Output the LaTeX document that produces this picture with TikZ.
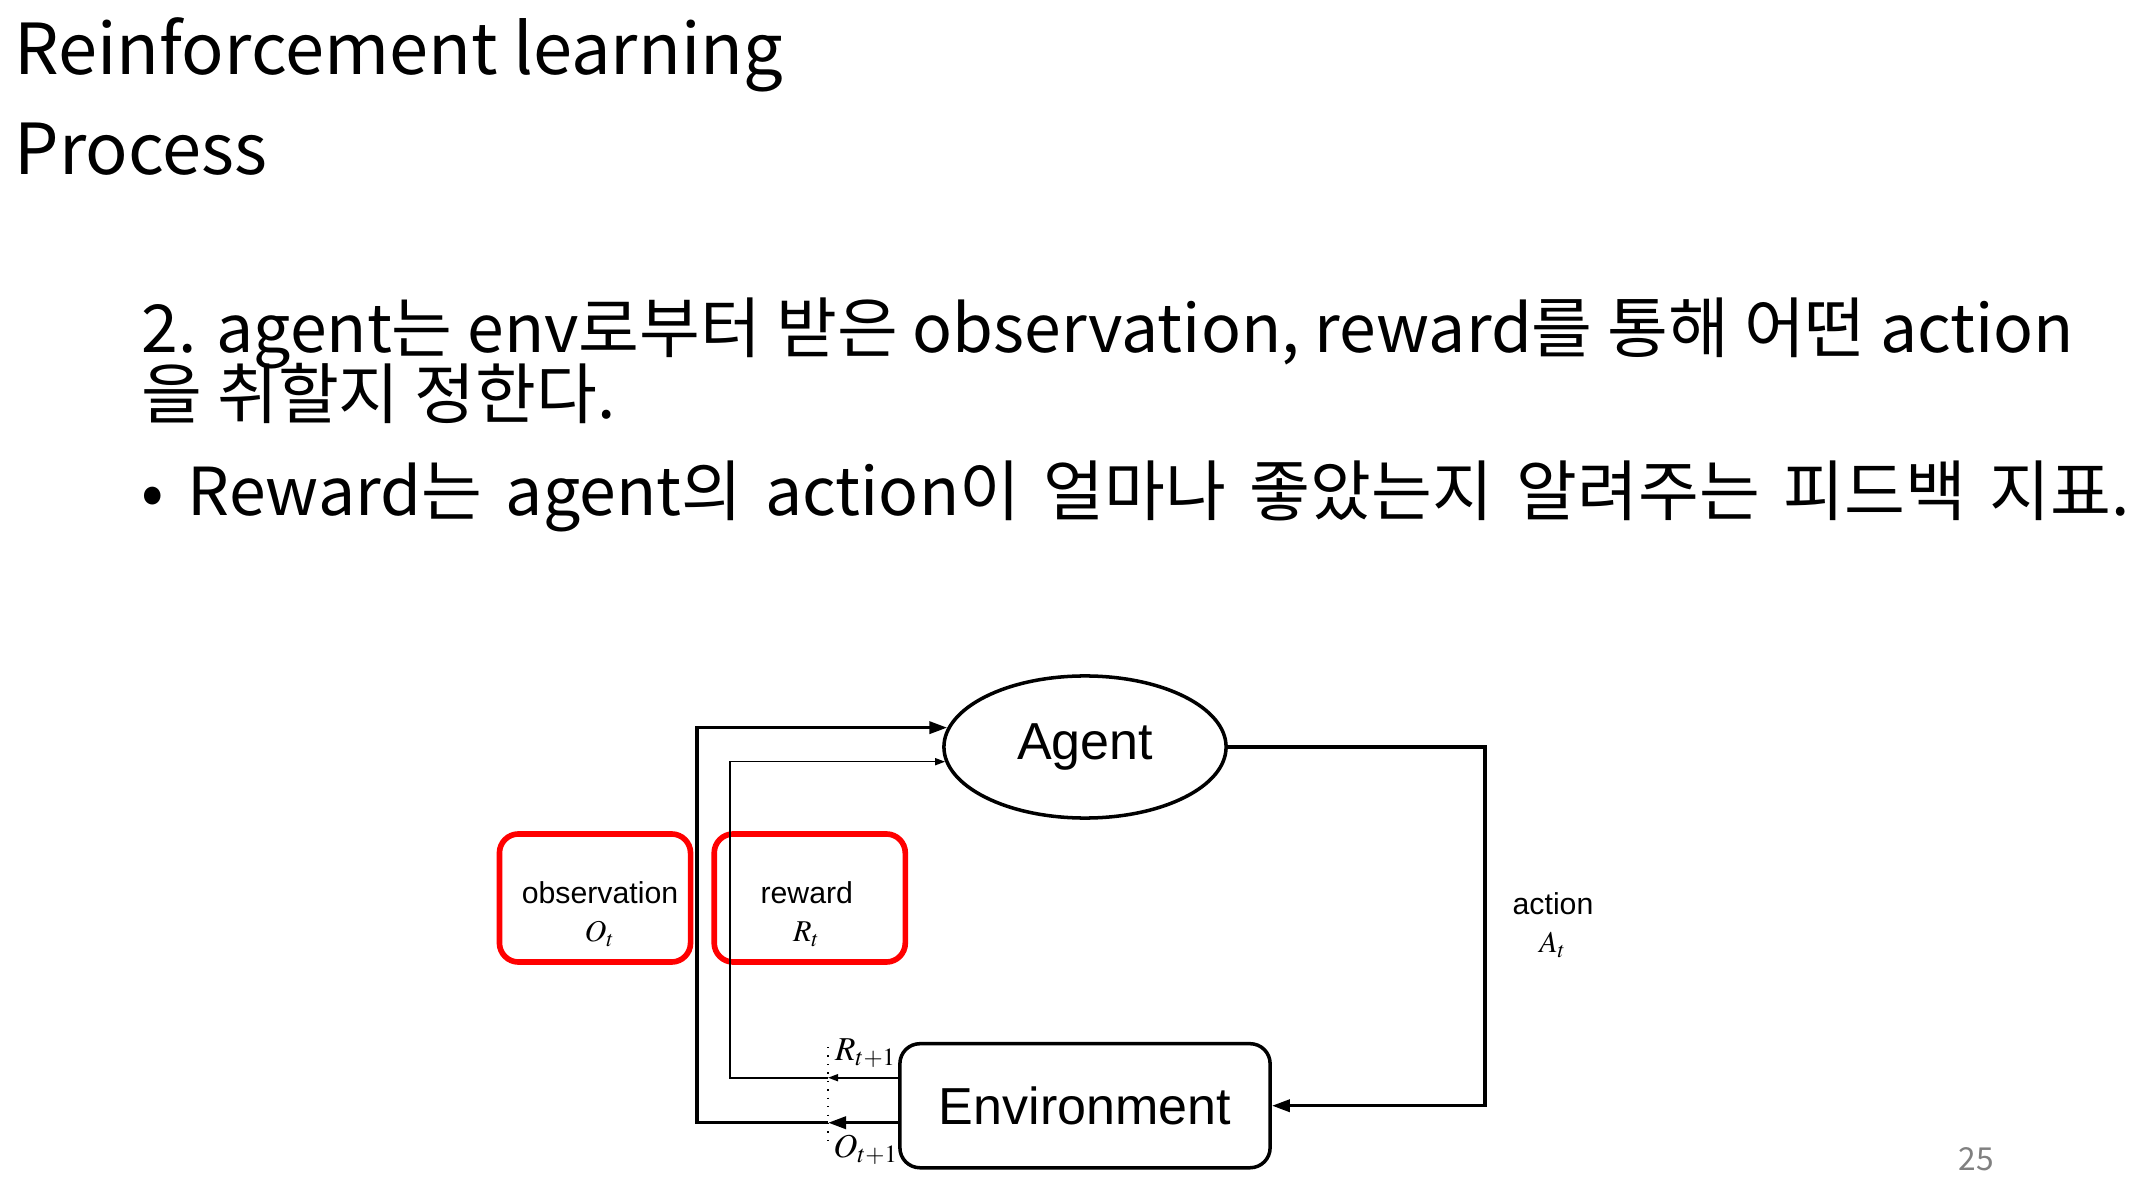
\documentclass[tikz,border=0pt]{standalone}
\usepackage{amsmath}
\usepackage{mathptmx}
\usepackage{fontspec}
\setmainfont{Noto Sans CJK KR}
\newfontfamily\diagfont{Liberation Sans}
\usepackage{tikz}
\usetikzlibrary{arrows.meta, positioning, shapes.geometric, calc}
\definecolor{boxred}{RGB}{255,0,0}
\definecolor{pagegray}{RGB}{128,128,128}
\tikzset{>={Triangle[length=0.18cm,width=0.12cm]}}
\tikzset{
  slidetext/.style={anchor=base west, inner sep=0pt},
  highlight/.style={draw=boxred, line width=1.6pt, rounded corners=0.19cm, minimum width=1.91cm,
    minimum height=1.28cm},
  boxtext/.style={align=center, inner sep=0pt, font=\diagfont\fontsize{8.6}{11}\selectfont},
  label/.style={font=\fontsize{9.5}{11}\selectfont, inner sep=0pt}
}
\begin{document}
\begin{tikzpicture}[x=0.01cm, y=-0.01cm]
        \useasboundingbox (0,0) rectangle (2140,1195);
        % slide text
        \node[slidetext, font=\fontsize{20}{24}\selectfont] (title) at (14,75) {Reinforcement learning};
        \node[slidetext, font=\fontsize{20}{24}\selectfont] (process) at (14,175) {Process};
        \node[slidetext, font=\fontsize{18.8}{21}\selectfont] (step1) at (141,353) {2. agent는 env로부터 받은 observation, reward를 통해 어떤 action};
        \node[slidetext, font=\fontsize{18.8}{21}\selectfont] (step2) at (141,419) {을 취할지 정한다.};
        \node[slidetext, font=\fontsize{18.8}{21}\selectfont] (bullet) at (141,516) {\spaceskip=\dimexpr\fontdimen2\font+2.5pt\relax • Reward는 agent의 action이 얼마나 좋았는지 알려주는 피드백 지표.};
        \node[anchor=base, inner sep=0pt, text=pagegray, font=\fontsize{9}{10}\selectfont] (page) at (1976,1170) {25};

        % diagram
        \node[draw, ellipse, line width=1pt, minimum width=2.82cm, minimum height=1.42cm, inner sep=0pt, font=\diagfont\fontsize{14.8}{16}\selectfont] (agent) at (1085,747) {Agent};
        \node[draw, line width=1pt, rounded corners=0.2cm, minimum width=3.7cm, minimum height=1.24cm, below=2.22cm of agent, font=\diagfont\fontsize{14.8}{16}\selectfont] (env) {Environment};
        \node[highlight] (obs) at (595,898) {};
        \node[highlight, right=0.18cm of obs] (rew) {};
        \node[boxtext] (obstext) at ([xshift=0.05cm, yshift=-0.16cm]obs.center) {observation\\$O_t$};
        \node[boxtext] (rewtext) at ([xshift=-0.03cm, yshift=-0.16cm]rew.center) {reward\\$R_t$};

        \coordinate (outerx) at (697,0);
        \coordinate (innerx) at (730,0);
        \coordinate (actx) at (1485,0);
        \coordinate (dottop) at (828,1047);
        \coordinate (dotbot) at (828,1144);
        \coordinate (obsout) at ([yshift=-0.17cm]env.west);
        \coordinate (rewout) at ([yshift=0.28cm]env.west);

        \draw[dotted] (dottop) -- (dotbot);
        \draw[line width=1pt, ->] (obsout) -- (obsout -| dottop);
        \draw[line width=1pt, ->] (obsout -| dottop) -- (obsout -| outerx) |- (agent.172);
        \draw[line width=0.45pt, -{Triangle[length=0.1cm,width=0.07cm]}] (rewout) -- (rewout -| dottop);
        \draw[line width=0.45pt, -{Triangle[length=0.1cm,width=0.07cm]}] (rewout -| dottop) -- (rewout -| innerx) |- (agent.186);
        \draw[line width=1pt, ->] (agent.east) -- (agent.east -| actx) |- (env.east);

        \node[label] (rnext) at (866,1053) {$R_{t+1}$};
        \node[label] (onext) at (866,1150) {$O_{t+1}$};
        \node[align=center, inner sep=0pt, font=\diagfont\fontsize{8.6}{11}\selectfont] (act) at (1553,925) {action\\$A_t$};
      \end{tikzpicture}
\end{document}
